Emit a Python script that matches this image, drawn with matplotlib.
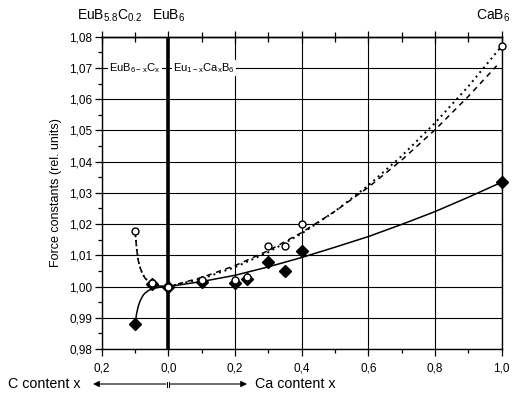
import matplotlib
matplotlib.use('Agg')
import matplotlib.pyplot as plt
from matplotlib.ticker import MultipleLocator, FuncFormatter
import matplotlib.transforms as mtrans

plt.rcParams['font.family'] = ['Liberation Sans', 'DejaVu Sans']
plt.rcParams['mathtext.default'] = 'regular'

# ---- data (x < 0 : C content, x > 0 : Ca content) ----
circle_x = [-0.1, -0.05, 0.0, 0.1, 0.2, 0.235, 0.3, 0.35, 0.4, 1.0]
circle_y = [1.0178, 1.0011, 1.0, 1.0021, 1.0021, 1.0031, 1.0131, 1.0131, 1.0200, 1.0771]
diamond_x = [-0.1, -0.05, 0.0, 0.1, 0.2, 0.235, 0.3, 0.35, 0.4, 1.0]
diamond_y = [0.9879, 1.0008, 1.0, 1.0015, 1.0011, 1.0023, 1.0078, 1.0051, 1.0114, 1.0334]

# fitted curves
neg_x = [-0.1, -0.095, -0.09, -0.085, -0.08, -0.075, -0.07, -0.06, -0.05, -0.04, -0.03, -0.02, -0.01, 0.0]
solid_neg = [0.9880, 0.9915, 0.9938, 0.9953, 0.9964, 0.9973, 0.9979, 0.9987, 0.9992, 0.9995, 0.9997, 0.9999, 1.0, 1.0]
dotted_neg = [1.0178, 1.0120, 1.0082, 1.0062, 1.0047, 1.0036, 1.0027, 1.0016, 1.0009, 1.0005, 1.0002, 1.0001, 1.0, 1.0]

pos_x = [0.0, 0.1, 0.2, 0.3, 0.4, 0.5, 0.6, 0.7, 0.8, 0.9, 1.0]
solid_pos = [1.0, 1.0016, 1.0036, 1.0063, 1.0093, 1.0126, 1.0160, 1.0199, 1.0240, 1.0286, 1.0334]
dotted_pos = [1.0, 1.0025, 1.0062, 1.0110, 1.0170, 1.0241, 1.0324, 1.0418, 1.0524, 1.0641, 1.0770]
dashed_x = [0.0, 0.1, 0.2, 0.3, 0.4, 0.5, 0.6, 0.7, 0.8, 0.9, 0.985]
dashed_pos = [1.0, 1.0029, 1.0067, 1.0115, 1.0173, 1.0241, 1.0318, 1.0405, 1.0502, 1.0609, 1.0707]

x_ticks = [-0.2, 0.0, 0.2, 0.4, 0.6, 0.8, 1.0]

W, H = 512, 394
fig = plt.figure(figsize=(W / 100, H / 100), dpi=100)
L, R, T, B = 101.7, 501.7, 36.7, 349.0
ax = fig.add_axes([L / W, 1 - B / H, (R - L) / W, (B - T) / H])

ax.set_xlim(-0.2, 1.0)
ax.set_ylim(0.98, 1.08)

ax.grid(True, which='major', color='black', lw=0.8)
ax.set_axisbelow(True)
ax.axvline(0.0, color='black', lw=2.6, zorder=2)

# curves
ax.plot(neg_x, solid_neg, color='black', lw=1.1, zorder=3)
ax.plot(pos_x, solid_pos, color='black', lw=1.1, zorder=3)
ax.plot(neg_x, dotted_neg, color='black', lw=1.3, ls=(0, (1, 1.5)), zorder=3)
ax.plot(neg_x, dotted_neg, color='black', lw=1.1, ls=(0, (3, 3)), zorder=3)
ax.plot(pos_x, dotted_pos, color='black', lw=1.4, ls=(0, (1, 2)), zorder=3)
ax.plot(dashed_x, dashed_pos, color='black', lw=1.1, ls=(0, (3.5, 3)), zorder=3)

# markers
ax.plot(diamond_x, diamond_y, ls='none', marker='D', ms=6.5, color='black', zorder=4, clip_on=False)
ax.plot(circle_x, circle_y, ls='none', marker='o', ms=5, mfc='white', mec='black', mew=1.0,
        zorder=5, clip_on=False)

# ticks
ax.xaxis.set_major_locator(plt.FixedLocator(x_ticks))
ax.xaxis.set_minor_locator(MultipleLocator(0.1))
ax.yaxis.set_major_locator(MultipleLocator(0.01))
ax.yaxis.set_minor_locator(MultipleLocator(0.005))
ax.xaxis.set_major_formatter(FuncFormatter(lambda v, p: f"{abs(v):.1f}".replace('.', ',')))
ax.yaxis.set_major_formatter(FuncFormatter(lambda v, p: f"{v:.2f}".replace('.', ',')))
ax.tick_params(which='major', direction='out', length=5, width=0.9, labelsize=8.5, colors='black')
ax.tick_params(which='minor', direction='out', length=3, width=0.9)
ax.tick_params(axis='x', pad=5)
ax.tick_params(axis='y', pad=2)

sec = ax.secondary_xaxis('top')
sec.set_xticks(x_ticks)
sec.xaxis.set_minor_locator(MultipleLocator(0.1))
sec.tick_params(which='major', direction='inout', length=9, width=0.9, labeltop=False)
sec.tick_params(which='minor', direction='inout', length=7, width=0.9)
sec.spines['top'].set_linewidth(1.0)

for s in ax.spines.values():
    s.set_linewidth(1.0)
    s.set_color('black')

ax.set_ylabel('Force constants (rel. units)', fontsize=9, labelpad=5)

# labels
tb = mtrans.blended_transform_factory(ax.transData, fig.transFigure)
ybase = 1 - 20 / H
fig.text(-0.175, ybase, r'EuB$_{5.8}$C$_{0.2}$', transform=tb, ha='center', va='baseline', fontsize=10)
fig.text(0.0, ybase, r'EuB$_{6}$', transform=tb, ha='center', va='baseline', fontsize=10)
fig.text(510 / W, ybase, r'CaB$_{6}$', ha='right', va='baseline', fontsize=10)

bb = dict(facecolor='white', edgecolor='none', pad=1.0)
ax.text(-0.1, 1.07, r'EuB$_{6-x}$C$_{x}$', ha='center', va='center', fontsize=8, bbox=bb, zorder=6)
ax.text(0.107, 1.07, r'Eu$_{1-x}$Ca$_{x}$B$_{6}$', ha='center', va='center', fontsize=8, bbox=bb, zorder=6)

# bottom arrows and captions
ya = 1 - 384 / H
fig.text(8 / W, ya, 'C content x', ha='left', va='center', fontsize=10.3)
fig.text(255 / W, ya, 'Ca content x', ha='left', va='center', fontsize=10.3)
arrow = dict(arrowstyle='-|>', color='black', lw=0.8, mutation_scale=9, shrinkA=0, shrinkB=0)
fig.add_artist(matplotlib.patches.FancyArrowPatch((166 / W, ya), (93 / W, ya), transform=fig.transFigure, **arrow))
fig.add_artist(matplotlib.patches.FancyArrowPatch((170 / W, ya), (247 / W, ya), transform=fig.transFigure, **arrow))
for px in (166.8, 169.2):
    fig.add_artist(matplotlib.lines.Line2D([px / W, px / W], [ya - 2.5 / H, ya + 2.5 / H],
                                           transform=fig.transFigure, color='black', lw=0.7))

fig.savefig('out.png', dpi=100)
